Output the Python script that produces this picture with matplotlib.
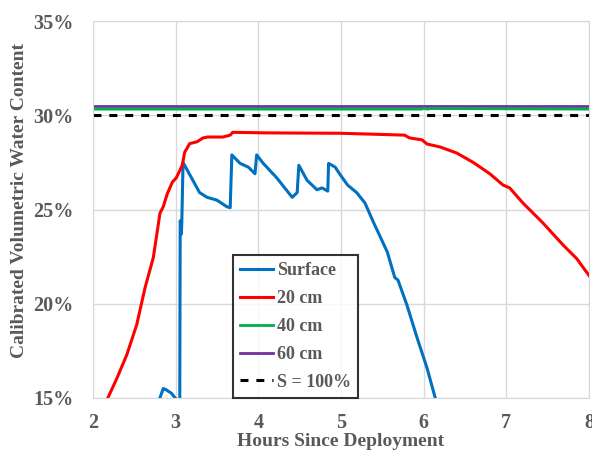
import numpy as np
import matplotlib
matplotlib.use('Agg')
import matplotlib.pyplot as plt

# Data (hours, volumetric water content %)
surf_h = [2.78, 2.81, 2.85, 2.88, 2.95, 3.03, 3.05, 3.055, 3.06, 3.07, 3.075, 3.09,
          3.14, 3.29, 3.38, 3.50, 3.62, 3.66, 3.68, 3.78, 3.88, 3.96, 3.98, 4.06,
          4.22, 4.41, 4.47, 4.49, 4.59, 4.71, 4.77, 4.84, 4.85, 4.93, 4.99, 5.08,
          5.19, 5.29, 5.39, 5.56, 5.65, 5.69, 5.80, 5.92, 6.04, 6.14, 6.18]
surf_v = [14.5, 15.0, 15.5, 15.45, 15.25, 14.8, 14.8, 24.4, 24.3, 23.7, 24.4, 27.5,
          27.1, 25.9, 25.65, 25.5, 25.15, 25.1, 27.9, 27.45, 27.25, 26.9, 27.9, 27.45,
          26.7, 25.65, 25.9, 27.35, 26.55, 26.05, 26.15, 25.98, 27.45, 27.25, 26.85, 26.3,
          25.9, 25.35, 24.35, 22.75, 21.4, 21.25, 19.9, 18.2, 16.6, 15.0, 14.5]

cm20_h = [2.10, 2.18, 2.29, 2.41, 2.53, 2.63, 2.73, 2.79, 2.81, 2.85, 2.90, 2.96,
          3.01, 3.08, 3.11, 3.17, 3.26, 3.33, 3.39, 3.57, 3.66, 3.69, 4.10, 4.50,
          4.99, 5.39, 5.77, 5.83, 5.98, 6.04, 6.20, 6.40, 6.60, 6.80, 6.96, 7.04,
          7.20, 7.44, 7.69, 7.85, 8.00]
cm20_v = [14.5, 15.0, 16.05, 17.3, 18.9, 20.85, 22.45, 24.2, 24.8, 25.15, 25.85, 26.45,
          26.7, 27.35, 28.05, 28.5, 28.6, 28.8, 28.85, 28.85, 28.95, 29.1, 29.07, 29.06,
          29.05, 29.0, 28.95, 28.8, 28.7, 28.48, 28.32, 28.0, 27.5, 26.9, 26.3, 26.15,
          25.35, 24.3, 23.1, 22.4, 21.5]

cm40_h = [2.0, 5.98, 6.0, 6.04, 6.08, 8.0]
cm40_v = [30.33, 30.33, 30.38, 30.33, 30.36, 30.33]

cm60_h = [2.0, 8.0]
cm60_v = [30.48, 30.48]

sat_h = [2.0, 8.0]
sat_v = [30.0, 30.0]

grey = '#595959'
plt.rcParams['font.family'] = ['Liberation Serif', 'DejaVu Serif']
plt.rcParams['font.weight'] = 'bold'

fig = plt.figure(figsize=(5.92, 4.5), dpi=100)
ax = fig.add_axes([0.157, 0.1156, 0.838, 0.8374])

ax.plot(surf_h, surf_v, color='#0070C0', lw=2.2, label='Surface')
ax.plot(cm20_h, cm20_v, color='#FF0000', lw=2.2, label='20 cm')
ax.plot(cm60_h, cm60_v, color='#7030A0', lw=2.0, label='60 cm')
ax.plot(cm40_h, cm40_v, color='#00B050', lw=2.0, label='40 cm')
ax.plot(sat_h, sat_v, color='black', lw=2.2, ls=(0, (2.6, 2.6)), label='S = 100%')

# legend order as in the reference
handles, labels = ax.get_legend_handles_labels()
order = [0, 1, 3, 2, 4]

ax.set_xlim(2, 8)
ax.set_ylim(15, 35)
ax.set_xticks(range(2, 9))
ax.set_yticks(range(15, 36, 5))
ax.set_yticklabels([f'{v}%' for v in range(15, 36, 5)])
ax.grid(True, color='#D9D9D9', lw=1)
ax.set_axisbelow(True)
for s in ax.spines.values():
    s.set_color('#D9D9D9')
ax.tick_params(length=0, labelsize=14.5, labelcolor=grey)
ax.tick_params(axis='y', pad=14)
ax.tick_params(axis='x', pad=11)

ax.set_xlabel('Hours Since Deployment', fontsize=14, color=grey, fontweight='bold')
ax.xaxis.set_label_coords(0.5, -0.094)
ax.set_ylabel('Calibrated Volumetric Water Content', fontsize=14, color=grey,
              fontweight='bold')
ax.yaxis.set_label_coords(-0.13, 0.525)

leg = ax.legend([handles[i] for i in order], [labels[i] for i in order],
                loc='lower left', bbox_to_anchor=(0.282, 0.0),
                prop={'size': 13, 'weight': 'bold'},
                frameon=True, fancybox=False, handlelength=1.85, handletextpad=0.2,
                borderaxespad=0, labelspacing=0.6, borderpad=0.4)
leg.get_frame().set_edgecolor('black')
leg.get_frame().set_linewidth(1.5)
for t in leg.get_texts():
    t.set_color(grey)

fig.savefig('out.png', dpi=100)
